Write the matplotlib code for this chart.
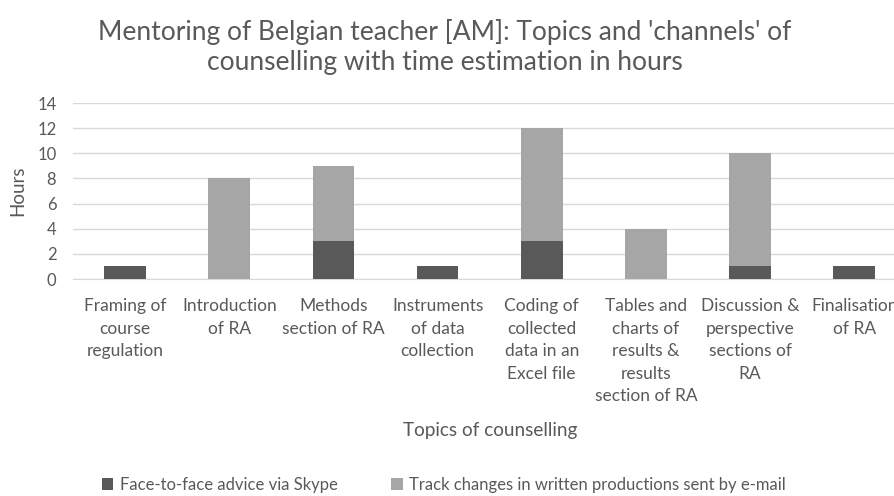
import matplotlib.pyplot as plt
import numpy as np

#topics of counselling (with the line breaks used in the chart)
topics = ["Framing of\ncourse\nregulation", "Introduction\nof RA", "Methods\nsection of RA",
          "Instruments\nof data\ncollection", "Coding of\ncollected\ndata in an\nExcel file",
          "Tables and\ncharts of\nresults &\nresults\nsection of RA",
          "Discussion &\nperspective\nsections of\nRA", "Finalisation\nof RA"]
#hours per channel
skype_hours = [1, 0, 3, 1, 3, 0, 1, 1]
email_hours = [0, 8, 6, 0, 9, 4, 9, 0]
y_ticks = [0, 2, 4, 6, 8, 10, 12, 14]

text_col = '#595959'
plt.rcParams['font.family'] = ['Lato', 'DejaVu Sans']

fig = plt.figure(figsize=(8.95, 4.96), dpi=100)
ax = fig.add_axes([0.0816, 0.4375, 0.931, 0.3548])

x = np.arange(len(topics))
ax.bar(x, skype_hours, width=0.4, color='#595959', label='Face-to-face advice via Skype', zorder=3)
ax.bar(x, email_hours, width=0.4, bottom=skype_hours, color='#a6a6a6',
       label='Track changes in written productions sent by e-mail', zorder=3)

ax.set_xlim(-0.5, len(topics) - 0.5)
ax.set_ylim(0, 14)
ax.set_yticks(y_ticks)
ax.tick_params(axis='y', length=0, labelsize=12, labelcolor=text_col, pad=12)
ax.set_xticks(x)
#the last label runs off the right edge, as in the original chart
ax.set_xticklabels(topics, fontsize=12.5, color=text_col, linespacing=1.5, va='top')
ax.tick_params(axis='x', length=0, pad=14)
ax.grid(axis='y', color='#d9d9d9', linewidth=1, zorder=0)
for s in ['top', 'right', 'left']:
    ax.spines[s].set_visible(False)
ax.spines['bottom'].set_color('#d9d9d9')

ax.set_ylabel('Hours', fontsize=13.5, color=text_col, labelpad=8)
fig.text(0.548, 0.133, 'Topics of counselling', ha='center', va='center',
         fontsize=13.7, color=text_col)

fig.text(0.497, 0.905, "Mentoring of Belgian teacher [AM]: Topics and 'channels' of\ncounselling with time estimation in hours",
         ha='center', va='center', fontsize=19, color=text_col, linespacing=1.25)

leg = fig.legend(loc='center', bbox_to_anchor=(0.496, 0.022), ncol=2, frameon=False,
                 fontsize=12, handlelength=0.7, handleheight=0.7, handletextpad=0.4,
                 columnspacing=3.2)
for t in leg.get_texts():
    t.set_color(text_col)

fig.savefig('out.png', dpi=100)
